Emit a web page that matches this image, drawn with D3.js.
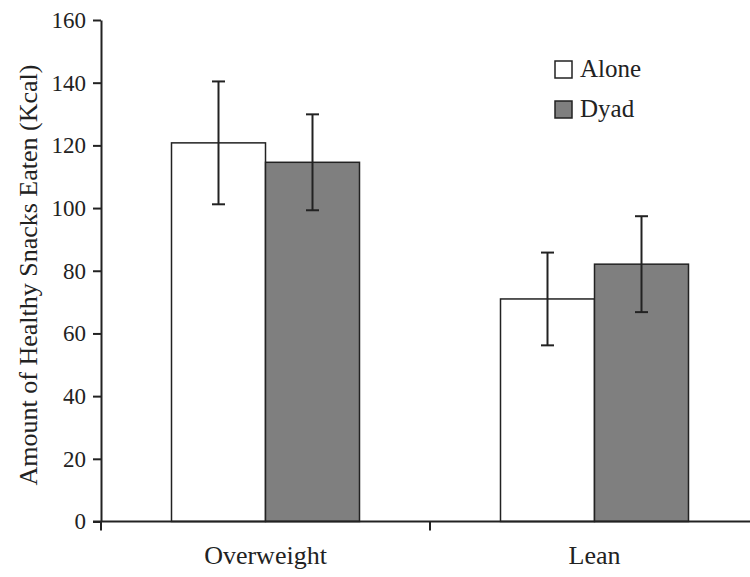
<!DOCTYPE html>
<style>
    body { margin: 0; background: #fff; }
    text {
        font-family: "Liberation Serif", "Times New Roman", serif;
        fill: #222;
    }
    .axis path, .axis line { stroke: #222; stroke-width: 2px; }
    .bar { stroke: #222; stroke-width: 1.5px; }
    .alone { fill: #ffffff; }
    .dyad { fill: #7f7f7f; }
    .err { stroke: #222; stroke-width: 2px; }
</style>
<body>
<script src="https://cdn.jsdelivr.net/npm/d3@7"></script>
<script>
// data
var groups = ["Overweight", "Lean"];
var series = ["Alone", "Dyad"];
var aloneMeans = [120.8, 71.0];
var dyadMeans = [114.6, 82.1];
var aloneErr = [19.6, 14.8];
var dyadErr = [15.3, 15.3];
var yTicks = [0, 20, 40, 60, 80, 100, 120, 140, 160];

var width = 750, height = 577;

var svg = d3.select("body").append("svg")
    .attr("width", width)
    .attr("height", height);

// scales
var y = d3.scaleLinear().domain([0, 160]).range([521.5, 20]);
var x0 = d3.scaleBand().domain(groups).range([101, 759]).paddingInner(0).paddingOuter(0);
var x1 = d3.scaleBand().domain(series).range([0, x0.bandwidth()]).paddingInner(0).paddingOuter(0.75);

var rows = [];
groups.forEach(function(g, i) {
    rows.push({group: g, s: "Alone", v: aloneMeans[i], e: aloneErr[i]});
    rows.push({group: g, s: "Dyad", v: dyadMeans[i], e: dyadErr[i]});
});

// bars
svg.selectAll(".bar").data(rows).enter().append("rect")
    .attr("class", function(d) { return "bar " + d.s.toLowerCase(); })
    .attr("x", function(d) { return x0(d.group) + x1(d.s); })
    .attr("width", x1.bandwidth())
    .attr("y", function(d) { return y(d.v); })
    .attr("height", function(d) { return y(0) - y(d.v); });

// error bars
var eb = svg.selectAll(".eb").data(rows).enter().append("g");
var cx = function(d) { return x0(d.group) + x1(d.s) + x1.bandwidth() / 2; };
eb.append("line").attr("class", "err")
    .attr("x1", cx).attr("x2", cx)
    .attr("y1", function(d) { return y(d.v + d.e); })
    .attr("y2", function(d) { return y(d.v - d.e); });
eb.append("line").attr("class", "err")
    .attr("x1", function(d) { return cx(d) - 6.5; })
    .attr("x2", function(d) { return cx(d) + 6.5; })
    .attr("y1", function(d) { return y(d.v + d.e); })
    .attr("y2", function(d) { return y(d.v + d.e); });
eb.append("line").attr("class", "err")
    .attr("x1", function(d) { return cx(d) - 6.5; })
    .attr("x2", function(d) { return cx(d) + 6.5; })
    .attr("y1", function(d) { return y(d.v - d.e); })
    .attr("y2", function(d) { return y(d.v - d.e); });

// y axis
var yAxis = svg.append("g").attr("class", "axis")
    .attr("transform", "translate(101,0)")
    .call(d3.axisLeft(y).tickValues(yTicks).tickSize(8).tickPadding(7).tickSizeOuter(0));
yAxis.selectAll("text")
    .style("font-size", "23px")
    .style("font-family", "Liberation Serif")
    .attr("fill", "#222");

// x axis: line plus ticks at group boundaries
var xAxis = svg.append("g").attr("class", "axis");
xAxis.append("line")
    .attr("x1", 93).attr("x2", 750)
    .attr("y1", y(0)).attr("y2", y(0));
var edges = groups.map(function(g) { return x0(g); });
xAxis.selectAll(".xt").data(edges).enter().append("line")
    .attr("x1", function(d) { return d; }).attr("x2", function(d) { return d; })
    .attr("y1", y(0)).attr("y2", y(0) + 9);
xAxis.selectAll(".xl").data(groups).enter().append("text")
    .attr("x", function(d) { return x0(d) + x0.bandwidth() / 2; })
    .attr("y", 564)
    .attr("text-anchor", "middle")
    .style("font-size", "26px")
    .text(function(d) { return d; });

// y label
svg.append("text")
    .attr("transform", "translate(37,275) rotate(-90)")
    .attr("text-anchor", "middle")
    .style("font-size", "26px")
    .text("Amount of Healthy Snacks Eaten (Kcal)");

// legend
var legend = svg.selectAll(".lg").data(series).enter().append("g")
    .attr("transform", function(d, i) { return "translate(555," + (61 + i * 40) + ")"; });
legend.append("rect")
    .attr("class", function(d) { return "bar " + d.toLowerCase(); })
    .attr("width", 17).attr("height", 17);
legend.append("text")
    .attr("x", 25).attr("y", 15.5)
    .style("font-size", "25px")
    .text(function(d) { return d; });
</script>
